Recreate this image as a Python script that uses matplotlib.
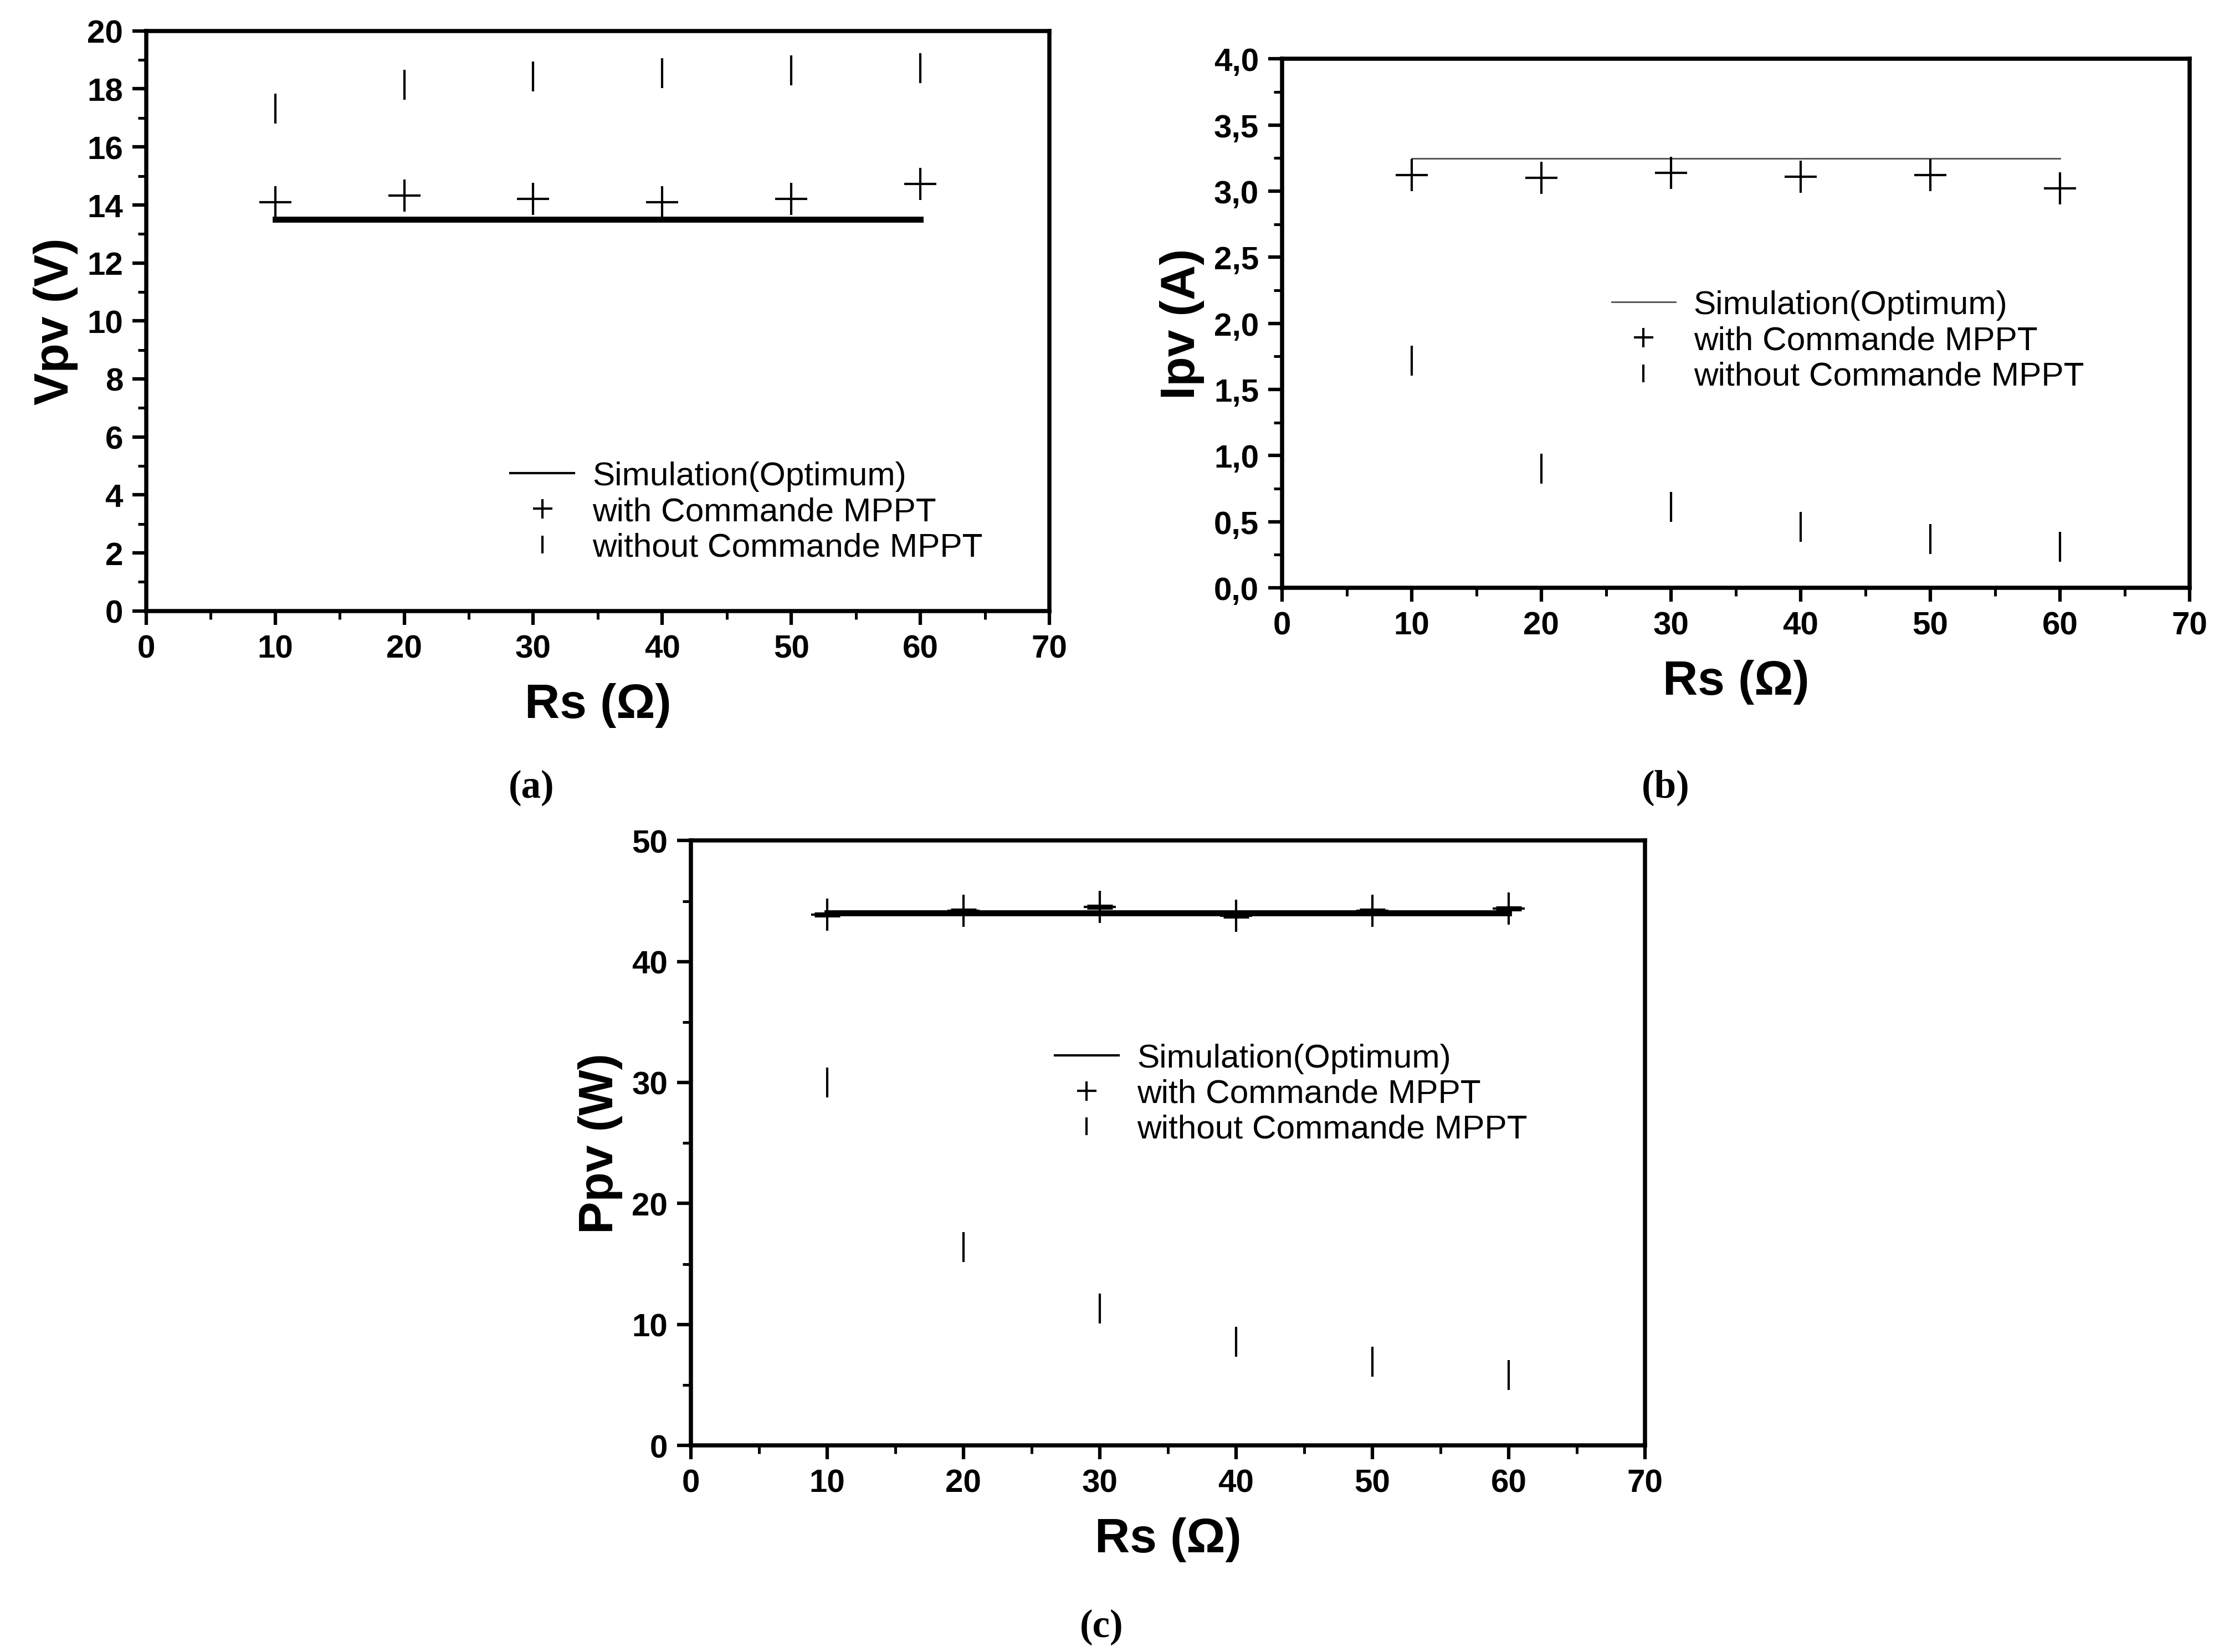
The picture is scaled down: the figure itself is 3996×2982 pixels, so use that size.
import numpy as np
import matplotlib
matplotlib.use("Agg")
import matplotlib.pyplot as plt
from matplotlib.ticker import MultipleLocator, FuncFormatter

# series resistance values (ohm)
rs = [10, 20, 30, 40, 50, 60]

# (a) Vpv
v_sim = [13.5, 13.5, 13.5, 13.5, 13.5, 13.5]
v_mppt = [14.1, 14.33, 14.2, 14.1, 14.2, 14.72]
v_nompt = [17.32, 18.14, 18.42, 18.55, 18.63, 18.71]

# (b) Ipv
i_sim = [3.246, 3.246, 3.246, 3.246, 3.246, 3.246]
i_mppt = [3.12, 3.10, 3.14, 3.11, 3.12, 3.02]
i_nompt = [1.72, 0.90, 0.61, 0.46, 0.37, 0.31]

# (c) Ppv
p_sim = [44.0, 44.0, 44.0, 44.0, 44.0, 44.0]
p_mppt = [43.9, 44.2, 44.5, 43.8, 44.2, 44.4]
p_nompt = [30.0, 16.4, 11.3, 8.55, 6.9, 5.8]

labels = ['Simulation(Optimum)', 'with Commande MPPT', 'without Commande MPPT']

plt.rcParams['font.family'] = ['Liberation Sans', 'DejaVu Sans']

fig = plt.figure(figsize=(13.32, 9.943), dpi=300)


def setup(ax, ylim, ymaj, ymin, ylabel, comma=False):
    ax.set_xlim(0, 70)
    ax.set_ylim(*ylim)
    ax.xaxis.set_major_locator(MultipleLocator(10))
    ax.xaxis.set_minor_locator(MultipleLocator(5))
    ax.yaxis.set_major_locator(MultipleLocator(ymaj))
    ax.yaxis.set_minor_locator(MultipleLocator(ymin))
    if comma:
        ax.yaxis.set_major_formatter(FuncFormatter(lambda v, p: ('%.1f' % v).replace('.', ',')))
    for s in ax.spines.values():
        s.set_linewidth(1.8)
    ax.tick_params(which='major', direction='out', length=6, width=1.5,
                   labelsize=14, pad=4, top=False, right=False)
    ax.tick_params(which='minor', direction='out', length=3.5, width=1.2,
                   top=False, right=False)
    for t in ax.get_xticklabels() + ax.get_yticklabels():
        t.set_fontweight('bold')
    ax.set_xlabel('Rs (\u03a9)', fontsize=21, fontweight='bold', labelpad=8)
    ax.set_ylabel(ylabel, fontsize=21, fontweight='bold', labelpad=4)


def legend(ax, anchor, lw):
    leg = ax.legend(loc='upper left', bbox_to_anchor=anchor, frameon=False,
                    fontsize=14.5, markerscale=0.6, handlelength=1.9,
                    handletextpad=0.55, labelspacing=0.15)
    leg.get_lines()[0].set_linewidth(lw)
    return leg


# (a)
ax1 = fig.add_axes([0.066, 0.630, 0.408, 0.351])
ax1.plot(rs, v_sim, '-', color='black', lw=2.6, label=labels[0])
ax1.plot(rs, v_mppt, '+', color='black', ms=14, mew=1.0, label=labels[1])
ax1.plot(rs, v_nompt, '|', color='black', ms=13, mew=1.0, label=labels[2])
setup(ax1, (0, 20), 2, 1, 'Vpv (V)')
legend(ax1, (0.37, 0.31), 1.0)

# (b)
ax2 = fig.add_axes([0.579, 0.644, 0.410, 0.320])
ax2.plot(rs, i_sim, '-', color='#555555', lw=0.7, label=labels[0])
ax2.plot(rs, i_mppt, '+', color='black', ms=14, mew=1.0, label=labels[1])
ax2.plot(rs, i_nompt, '|', color='black', ms=13, mew=1.0, label=labels[2])
setup(ax2, (0, 4.0), 0.5, 0.25, 'Ipv (A)', comma=True)
legend(ax2, (0.33, 0.62), 0.7)

# (c)
ax3 = fig.add_axes([0.312, 0.125, 0.431, 0.366])
ax3.plot(rs, p_sim, '-', color='black', lw=2.6, label=labels[0])
ax3.plot(rs, p_mppt, '+', color='black', ms=14, mew=1.0, label=labels[1])
ax3.plot(rs, p_mppt, '_', color='black', ms=11, mew=2.2)
ax3.plot(rs, p_nompt, '|', color='black', ms=13, mew=1.0, label=labels[2])
setup(ax3, (0, 50), 10, 5, 'Ppv (W)')
legend(ax3, (0.35, 0.715), 1.0)

# panel letters
tfont = dict(family=['Liberation Serif', 'DejaVu Serif'], fontsize=17, fontweight='bold',
             ha='center', va='center')
fig.text(375 / 1562, 1 - 557 / 1168, '(a)', **tfont)
fig.text(1175 / 1562, 1 - 557 / 1168, '(b)', **tfont)
fig.text(777 / 1562, 1 - 1150 / 1168, '(c)', **tfont)

fig.savefig('out.png', dpi=300)
